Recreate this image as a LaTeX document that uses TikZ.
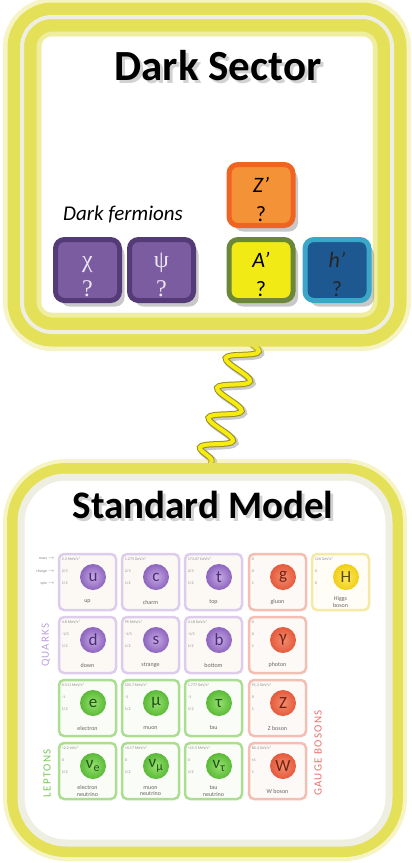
\documentclass[tikz,border=0pt]{standalone}
\usepackage{fontspec}
\setmainfont{Carlito}
\newfontfamily\greekserif{Liberation Serif}
\usepackage{tikz}
\usetikzlibrary{positioning, shadows, backgrounds, decorations.pathmorphing}
\definecolor{glowyellow}{RGB}{228,224,88}
\definecolor{cream}{RGB}{238,238,226}
\definecolor{waveyellow}{RGB}{246,236,16}
\definecolor{waveedge}{RGB}{150,140,40}
\definecolor{fermionfill}{RGB}{123,92,160}
\definecolor{fermionborder}{RGB}{85,58,120}
\definecolor{fermiontext}{RGB}{236,230,244}
\definecolor{zfill}{RGB}{244,146,56}
\definecolor{zborder}{RGB}{240,100,35}
\definecolor{afill}{RGB}{242,234,20}
\definecolor{aborder}{RGB}{107,135,55}
\definecolor{hfill}{RGB}{30,88,145}
\definecolor{hborder}{RGB}{58,166,200}
\definecolor{quarkborder}{RGB}{222,204,236}
\definecolor{quarkfill}{RGB}{252,249,245}
\definecolor{quarklight}{RGB}{200,170,228}
\definecolor{quarkdark}{RGB}{140,100,190}
\definecolor{quarktext}{RGB}{75,45,115}
\definecolor{leptonborder}{RGB}{172,222,145}
\definecolor{leptonfill}{RGB}{250,252,247}
\definecolor{leptonlight}{RGB}{150,225,110}
\definecolor{leptondark}{RGB}{90,185,55}
\definecolor{leptontext}{RGB}{35,80,25}
\definecolor{bosonborder}{RGB}{245,190,178}
\definecolor{bosonfill}{RGB}{253,249,247}
\definecolor{bosonlight}{RGB}{245,140,110}
\definecolor{bosondark}{RGB}{228,90,60}
\definecolor{bosontext}{RGB}{110,35,20}
\definecolor{higgsborder}{RGB}{245,234,165}
\definecolor{higgsfill}{RGB}{255,253,245}
\definecolor{higgslight}{RGB}{252,235,90}
\definecolor{higgsdark}{RGB}{240,205,25}
\definecolor{higgstext}{RGB}{95,75,0}
\definecolor{quarkgroup}{RGB}{190,160,220}
\definecolor{leptongroup}{RGB}{120,200,85}
\definecolor{bosongroup}{RGB}{238,110,105}

% one particle card of the Standard Model chart
\newcommand{\smcard}[8]{%
  \node[card, draw=#3border, fill=#3fill] (#1) at (#2) {};
  \node[ball, inner color=#3light, outer color=#3dark, text=#3text] (#1ball) at ([xshift=5.5pt, yshift=5pt]#1.center) {#4};
  \node[pname] (#1name) at ([yshift=-20pt]#1.center) {#5};
  \node[tinytext, anchor=west] (#1mass) at ([xshift=4pt, yshift=-6pt]#1.north west) {#6};
  \node[tinytext, anchor=west] (#1charge) at ([xshift=4pt, yshift=-18pt]#1.north west) {#7};
  \node[tinytext, anchor=west] (#1spin) at ([xshift=4pt, yshift=-30pt]#1.north west) {#8};
}
% pushes the two lines of a dark sector box a little down
\newcommand{\boxstrut}{\rule{0pt}{25pt}}

\begin{document}
\begin{tikzpicture}[x=1pt, y=-1pt,
  sector/.style={rectangle, rounded corners=30pt, inner sep=0pt, outer sep=0pt, draw=cream, line width=4pt,
    preaction={fill=white}, preaction={draw=glowyellow, opacity=.35, line width=38pt},
    preaction={draw=glowyellow, line width=29pt}},
  smframe/.style={rectangle, rounded corners=45pt, inner sep=0pt, outer sep=0pt, draw=cream, line width=7pt, fill=white,
    preaction={draw=glowyellow, opacity=.35, line width=36pt}, preaction={draw=glowyellow, line width=28pt}},
  title/.style={font=\bfseries\fontsize{43}{43}\selectfont, inner sep=0pt, anchor=base},
  darkbox/.style={rectangle, rounded corners=9pt, line width=5pt, minimum width=64pt, minimum height=61pt,
    inner sep=0pt, align=center, font=\fontsize{22}{29}\selectfont,
    drop shadow={shadow xshift=5pt, shadow yshift=-6pt, opacity=.3, fill=black!70}},
  card/.style={rectangle, rounded corners=5pt, line width=2.5pt, minimum width=57pt, minimum height=56pt, inner sep=0pt},
  ball/.style={circle, minimum size=26pt, inner sep=0pt, shading=radial, font=\fontsize{17}{17}\selectfont},
  pname/.style={font=\fontsize{6}{6.5}\selectfont, text=black!60, align=center, inner sep=0pt},
  tinytext/.style={font=\fontsize{4}{5}\selectfont, text=black!45, inner sep=0pt},
  group/.style={font=\fontsize{11}{11}\selectfont\addfontfeature{LetterSpace=12}, inner sep=0pt, rotate=90},
  wave/.style={decorate, decoration={snake, amplitude=15pt, segment length=31pt}, line cap=round}
]
\useasboundingbox (0,0) rectangle (412,863);

% frames
\node[sector, minimum width=370pt, minimum height=315pt] (ds) at (207,174.5) {};
\draw[glowyellow, line width=5pt, opacity=.35, rounded corners=12pt]
  ([shift={(17pt,-17pt)}]ds.north west) rectangle ([shift={(-17pt,17pt)}]ds.south east);
\node[smframe, minimum width=368pt, minimum height=366pt] (sm) at (205,660) {};

% wavy link behind the frames
\coordinate (wtop) at ([xshift=40pt, yshift=-6pt]ds.south);
\coordinate (wbot) at ([xshift=4pt, yshift=7pt]sm.north);
\begin{pgfonlayer}{background}
\draw[wave, line width=7pt, black!35, opacity=.6, transform canvas={xshift=2pt, yshift=-2pt}] (wtop) -- (wbot);
\draw[wave, line width=6pt, waveedge] (wtop) -- (wbot);
\draw[wave, line width=4pt, waveyellow] (wtop) -- (wbot);
\end{pgfonlayer}

% Dark Sector
\node[title, text=black!35, opacity=.5] at (221,83) {Dark Sector};
\node[title] (dstitle) at (218,80) {Dark Sector};
\node[font=\itshape\fontsize{21}{21}\selectfont, inner sep=0pt, anchor=base] (fermlabel) at (123,220) {Dark fermions};
\node[darkbox, fill=fermionfill, draw=fermionborder, text=fermiontext, font=\greekserif\fontsize{24}{29}\selectfont] (chi) at (87.5,270) {\boxstrut χ\\?};
\node[darkbox, fill=fermionfill, draw=fermionborder, text=fermiontext, font=\greekserif\fontsize{24}{29}\selectfont] (psi) at (161.5,270) {\boxstrut ψ\\?};
\node[darkbox, fill=zfill, draw=zborder] (zprime) at (261,195) {\boxstrut\itshape Z’\\?};
\node[darkbox, fill=afill, draw=aborder] (aprime) at (261,270) {\boxstrut\itshape A’\\?};
\node[darkbox, fill=hfill, draw=hborder, text=black!85] (hprime) at (337,270) {\boxstrut\itshape h’\\?};

% Standard Model
\node[title, text=black!35, opacity=.5, font=\bfseries\fontsize{39}{39}\selectfont] at (206,521) {Standard Model};
\node[title, font=\bfseries\fontsize{39}{39}\selectfont] (smtitle) at (203,518) {Standard Model};

\node[tinytext, anchor=east] (masslabel) at (55,559) {mass $\rightarrow$};
\node[tinytext, anchor=east] (chargelabel) at (55,571) {charge $\rightarrow$};
\node[tinytext, anchor=east] (spinlabel) at (55,583) {spin $\rightarrow$};

\smcard{u}{87.5,582}{quark}{u}{up}{2.3 MeV/c²}{2/3}{1/2}
\smcard{c}{150.5,582}{quark}{c}{charm}{1.275 GeV/c²}{2/3}{1/2}
\smcard{t}{213.5,582}{quark}{t}{top}{173.07 GeV/c²}{2/3}{1/2}
\smcard{g}{277.5,582}{boson}{g}{gluon}{0}{0}{1}
\smcard{H}{340.5,582}{higgs}{H}{Higgs\\boson}{126 GeV/c²}{0}{0}
\smcard{d}{87.5,645}{quark}{d}{down}{4.8 MeV/c²}{-1/3}{1/2}
\smcard{s}{150.5,645}{quark}{s}{strange}{95 MeV/c²}{-1/3}{1/2}
\smcard{b}{213.5,645}{quark}{b}{bottom}{4.18 GeV/c²}{-1/3}{1/2}
\smcard{photon}{277.5,645}{boson}{γ}{photon}{0}{0}{1}
\smcard{e}{87.5,708}{lepton}{e}{electron}{0.511 MeV/c²}{-1}{1/2}
\smcard{mu}{150.5,708}{lepton}{μ}{muon}{105.7 MeV/c²}{-1}{1/2}
\smcard{tau}{213.5,708}{lepton}{τ}{tau}{1.777 GeV/c²}{-1}{1/2}
\smcard{Z}{277.5,708}{boson}{Z}{Z boson}{91.2 GeV/c²}{0}{1}
\smcard{nue}{87.5,771}{lepton}{ν\textsubscript{e}}{electron\\neutrino}{<2.2 eV/c²}{0}{1/2}
\smcard{numu}{150.5,771}{lepton}{ν\textsubscript{μ}}{muon\\neutrino}{<0.17 MeV/c²}{0}{1/2}
\smcard{nutau}{213.5,771}{lepton}{ν\textsubscript{τ}}{tau\\neutrino}{<15.5 MeV/c²}{0}{1/2}
\smcard{W}{277.5,771}{boson}{W}{W boson}{80.4 GeV/c²}{±1}{1}

\node[group, text=quarkgroup] (quarks) at (46,645) {QUARKS};
\node[group, text=leptongroup] (leptons) at (47,773) {LEPTONS};
\node[group, text=bosongroup] (bosons) at (318,753) {GAUGE BOSONS};
\end{tikzpicture}
\end{document}
